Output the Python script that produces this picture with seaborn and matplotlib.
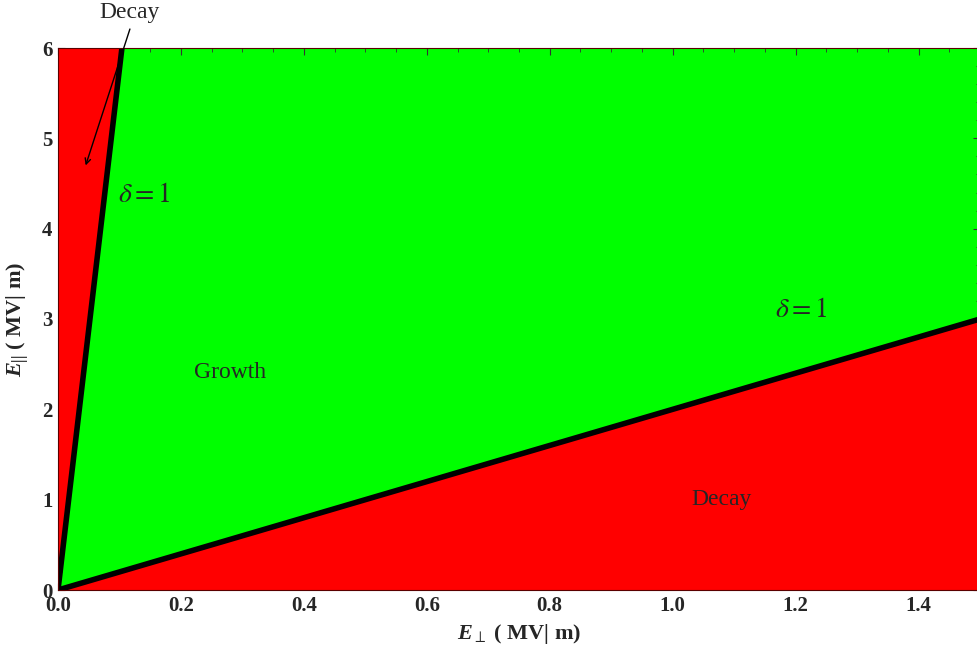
import matplotlib
matplotlib.use('Agg')
import matplotlib.pyplot as plt
import seaborn as sns
from matplotlib.ticker import MultipleLocator

# Limites de las regiones (rectas delta = 1)
steep_x = [0.0, 0.104]
steep_y = [0.0, 6.0]
shallow_x = [0.0, 1.5]
shallow_y = [0.0, 3.0]

x_ticks = [0.0, 0.2, 0.4, 0.6, 0.8, 1.0, 1.2, 1.4]
y_ticks = [0, 1, 2, 3, 4, 5, 6]

sns.set_style('ticks')
plt.rcParams['font.family'] = ['Liberation Serif', 'DejaVu Serif']
plt.rcParams['mathtext.fontset'] = 'custom'
plt.rcParams['mathtext.rm'] = 'Liberation Serif:bold'
plt.rcParams['mathtext.it'] = 'Liberation Serif:bold:italic'
plt.rcParams['mathtext.bf'] = 'Liberation Serif:bold'

fig = plt.figure(figsize=(9.77, 6.55), dpi=100)
ax = fig.add_axes([58 / 977, 65 / 655, 922 / 977, 542 / 655])
ax.set_facecolor('#00FF00')

# Regiones de decaimiento
ax.fill([steep_x[0], steep_x[1], 0.0], [steep_y[0], steep_y[1], 6.0], color='#FF0000', lw=0)
ax.fill([shallow_x[0], shallow_x[1], 1.5], [shallow_y[0], shallow_y[1], 0.0], color='#FF0000', lw=0)

# Rectas delta = 1
sns.lineplot(x=steep_x, y=steep_y, color='black', lw=4, ax=ax, sort=False)
sns.lineplot(x=shallow_x, y=shallow_y, color='black', lw=4, ax=ax, sort=False)

ax.set_xlim(0, 1.5)
ax.set_ylim(0, 6)
ax.set_xticks(x_ticks)
ax.set_yticks(y_ticks)
ax.set_xticklabels([f'{v:.1f}' for v in x_ticks], fontweight='bold', fontsize=15)
ax.set_yticklabels([str(v) for v in y_ticks], fontweight='bold', fontsize=15)
ax.xaxis.set_minor_locator(MultipleLocator(0.05))
ax.yaxis.set_minor_locator(MultipleLocator(0.2))
ax.tick_params(which='both', direction='in', top=True, right=True, color='#333333')
ax.tick_params(which='major', length=5, width=0.8, pad=4)
ax.tick_params(which='minor', length=3, width=0.6)
for s in ax.spines.values():
    s.set_color('#5a0000')
    s.set_linewidth(0.8)

ax.set_xlabel(r'$E_{\perp}$ ( MV| m)', fontsize=16, fontweight='bold', labelpad=5)
ax.set_ylabel(r'$E_{||}$ ( MV| m)', fontsize=16, fontweight='bold', labelpad=8)

# Etiquetas
ax.text(0.117, 6.39, 'Decay', fontsize=17, ha='center', va='center', clip_on=False)
ax.annotate('', xy=(0.045, 4.7), xytext=(0.117, 6.21), annotation_clip=False,
            arrowprops=dict(arrowstyle='->', color='black', lw=1, shrinkA=0, shrinkB=0))
ax.text(0.14, 4.37, r'$\delta = 1$', fontsize=20, ha='center', va='center',
        math_fontfamily='stix')
ax.text(1.21, 3.09, r'$\delta = 1$', fontsize=20, ha='center', va='center',
        math_fontfamily='stix')
ax.text(0.28, 2.41, 'Growth', fontsize=17, ha='center', va='center')
ax.text(1.08, 1.0, 'Decay', fontsize=17, ha='center', va='center')

fig.savefig('out.png', dpi=100)
